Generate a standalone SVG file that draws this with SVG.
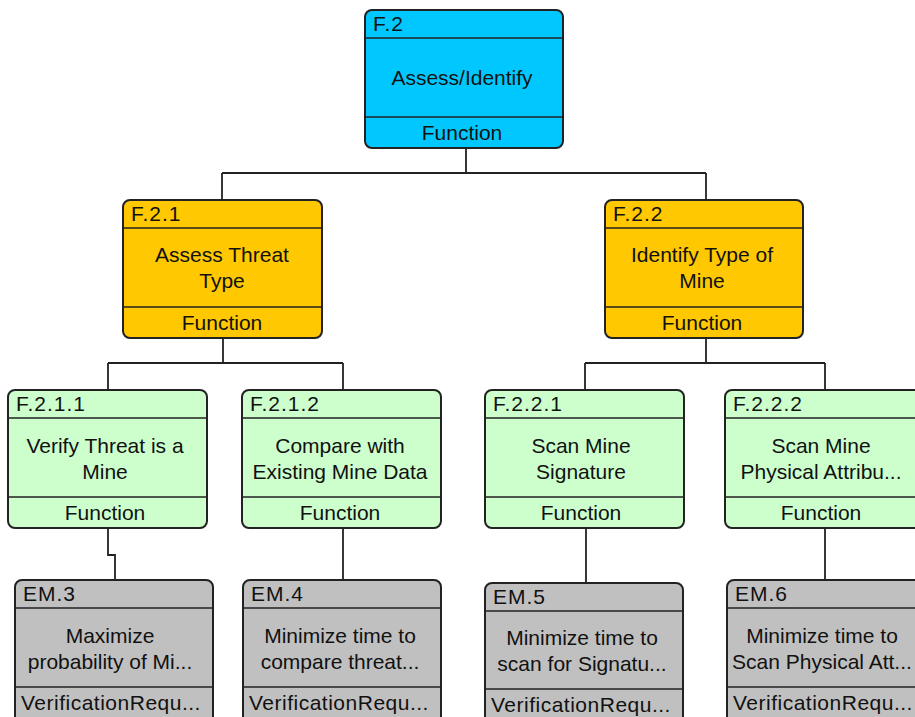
<svg xmlns="http://www.w3.org/2000/svg" width="915" height="717" viewBox="0 0 915 717">
<style>
text{font-family:"Liberation Sans",Arial,sans-serif;font-size:21px;fill:#111}
.h{letter-spacing:1px}
.f{letter-spacing:0.5px}
.box{stroke:#222;stroke-width:2}
.sep{stroke:#222;stroke-width:1.6}
.c{text-anchor:middle}
.blue{fill:#00C8FF}
.org{fill:#FFC800}
.grn{fill:#CCFFCC}
.gry{fill:#C0C0C0}
.conn{fill:none;stroke:#222;stroke-width:1.8}
</style>
<rect width="915" height="717" fill="#fff"/>
<g id="connectors">
<path class="conn" d="M466 148V173M222 173H706M222 173V200M706 173V200"/>
<path class="conn" d="M223 338V363M108 363H343M108 363V390M343 363V390"/>
<path class="conn" d="M706 338V363M585 363H825M585 363V390M825 363V390"/>
<path class="conn" d="M108 528V555H115V580"/>
<path class="conn" d="M343 528V580"/>
<path class="conn" d="M586 528V583"/>
<path class="conn" d="M825 528V580"/>
</g>
<g id="F2">
<rect class="box blue" x="365" y="10" width="198" height="138" rx="7"/>
<path class="sep" d="M365 38H563M365 117H563"/>
<text class="h" x="373" y="31">F.2</text>
<text class="c" x="462" y="85">Assess/Identify</text>
<text class="c" x="462" y="140">Function</text>
</g>
<g id="F21">
<rect class="box org" x="123" y="200" width="199" height="138" rx="7"/>
<path class="sep" d="M123 228H322M123 307H322"/>
<text class="h" x="131" y="221">F.2.1</text>
<text class="c" x="222" y="262">Assess Threat</text>
<text class="c" x="222" y="288">Type</text>
<text class="c" x="222" y="330">Function</text>
</g>
<g id="F22">
<rect class="box org" x="605" y="200" width="198" height="138" rx="7"/>
<path class="sep" d="M605 228H803M605 307H803"/>
<text class="h" x="613" y="221">F.2.2</text>
<text class="c" x="702" y="262">Identify Type of</text>
<text class="c" x="702" y="288">Mine</text>
<text class="c" x="702" y="330">Function</text>
</g>
<g id="F211">
<rect class="box grn" x="8" y="390" width="199" height="138" rx="7"/>
<path class="sep" d="M8 418H207M8 497H207"/>
<text class="h" x="16" y="411">F.2.1.1</text>
<text class="c" x="105" y="453">Verify Threat is a</text>
<text class="c" x="105" y="479">Mine</text>
<text class="c" x="105" y="520">Function</text>
</g>
<g id="F212">
<rect class="box grn" x="242" y="390" width="199" height="138" rx="7"/>
<path class="sep" d="M242 418H441M242 497H441"/>
<text class="h" x="250" y="411">F.2.1.2</text>
<text class="c" x="340" y="453">Compare with</text>
<text class="c" x="340" y="479">Existing Mine Data</text>
<text class="c" x="340" y="520">Function</text>
</g>
<g id="F221">
<rect class="box grn" x="485" y="390" width="199" height="138" rx="7"/>
<path class="sep" d="M485 418H684M485 497H684"/>
<text class="h" x="493" y="411">F.2.2.1</text>
<text class="c" x="581" y="453">Scan Mine</text>
<text class="c" x="581" y="479">Signature</text>
<text class="c" x="581" y="520">Function</text>
</g>
<g id="F222">
<rect class="box grn" x="725" y="390" width="198" height="138" rx="7"/>
<path class="sep" d="M725 418H923M725 497H923"/>
<text class="h" x="733" y="411">F.2.2.2</text>
<text class="c" x="821" y="453">Scan Mine</text>
<text class="c" x="821" y="479">Physical Attribu...</text>
<text class="c" x="821" y="520">Function</text>
</g>
<g id="EM3">
<rect class="box gry" x="15" y="580" width="198" height="150" rx="7"/>
<path class="sep" d="M15 608H213M15 687H213"/>
<text class="h" x="23" y="601">EM.3</text>
<text class="c" x="110" y="643">Maximize</text>
<text class="c" x="110" y="669">probability of Mi...</text>
<text class="f" x="21" y="710">VerificationRequ...</text>
</g>
<g id="EM4">
<rect class="box gry" x="243" y="580" width="198" height="150" rx="7"/>
<path class="sep" d="M243 608H441M243 687H441"/>
<text class="h" x="251" y="601">EM.4</text>
<text class="c" x="340" y="643">Minimize time to</text>
<text class="c" x="340" y="669">compare threat...</text>
<text class="f" x="249" y="710">VerificationRequ...</text>
</g>
<g id="EM5">
<rect class="box gry" x="485" y="583" width="198" height="150" rx="7"/>
<path class="sep" d="M485 611H683M485 689H683"/>
<text class="h" x="493" y="604">EM.5</text>
<text class="c" x="582" y="645">Minimize time to</text>
<text class="c" x="582" y="671">scan for Signatu...</text>
<text class="f" x="491" y="712">VerificationRequ...</text>
</g>
<g id="EM6">
<rect class="box gry" x="727" y="580" width="198" height="150" rx="7"/>
<path class="sep" d="M727 608H925M727 687H925"/>
<text class="h" x="735" y="601">EM.6</text>
<text class="c" x="822" y="643">Minimize time to</text>
<text class="c" x="822" y="669">Scan Physical Att...</text>
<text class="f" x="733" y="710">VerificationRequ...</text>
</g>
</svg>
